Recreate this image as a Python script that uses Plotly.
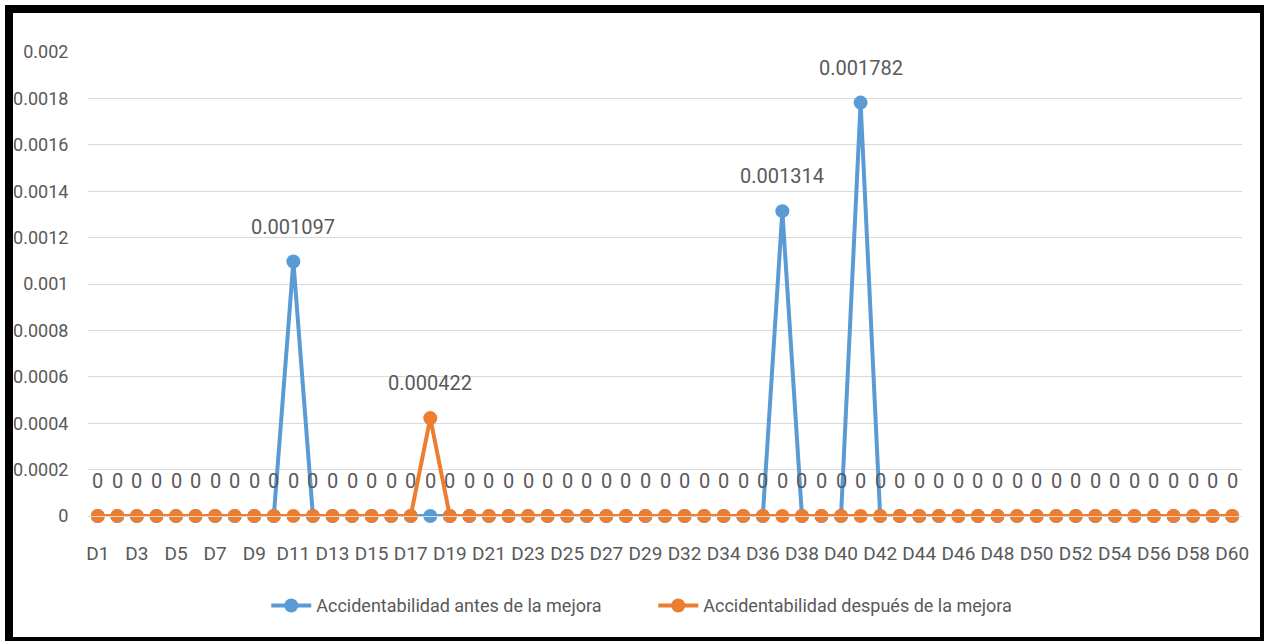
import plotly.graph_objects as go

categories = ["D1", "D2", "D3", "D4", "D5", "D6", "D7", "D8", "D9", "D10",
              "D11", "D12", "D13", "D14", "D15", "D16", "D17", "D18", "D19", "D20",
              "D21", "D22", "D23", "D24", "D25", "D26", "D27", "D28", "D29", "D30",
              "D32", "D33", "D34", "D35", "D36", "D37", "D38", "D39", "D40", "D41",
              "D42", "D43", "D44", "D45", "D46", "D47", "D48", "D49", "D50", "D51",
              "D52", "D53", "D54", "D55", "D56", "D57", "D58", "D59", "D60"]

antes = [0, 0, 0, 0, 0, 0, 0, 0, 0, 0,
         0.001097, 0, 0, 0, 0, 0, 0, 0, 0, 0,
         0, 0, 0, 0, 0, 0, 0, 0, 0, 0,
         0, 0, 0, 0, 0, 0.001314, 0, 0, 0, 0.001782,
         0, 0, 0, 0, 0, 0, 0, 0, 0, 0,
         0, 0, 0, 0, 0, 0, 0, 0, 0]

despues = [0, 0, 0, 0, 0, 0, 0, 0, 0, 0,
           0, 0, 0, 0, 0, 0, 0, 0.000422, 0, 0,
           0, 0, 0, 0, 0, 0, 0, 0, 0, 0,
           0, 0, 0, 0, 0, 0, 0, 0, 0, 0,
           0, 0, 0, 0, 0, 0, 0, 0, 0, 0,
           0, 0, 0, 0, 0, 0, 0, 0, 0]

series_names = ["Accidentabilidad antes de la mejora", "Accidentabilidad después de la mejora"]
y_ticks = [0, 0.0002, 0.0004, 0.0006, 0.0008, 0.001, 0.0012, 0.0014, 0.0016, 0.0018, 0.002]
y_tick_text = ["0", "0.0002", "0.0004", "0.0006", "0.0008", "0.001", "0.0012", "0.0014", "0.0016", "0.0018", "0.002"]

BLUE = "#5b9bd5"
ORANGE = "#ed7d31"
TXT = "#595959"
FONT = "Roboto, sans-serif"

W, H = 1266, 641
L, R, T, B = 88, 24, 52, 125

fig = go.Figure()
for vals, name, col in [(antes, series_names[0], BLUE), (despues, series_names[1], ORANGE)]:
    fig.add_trace(go.Scatter(
        x=categories, y=vals, name=name, mode="lines+markers",
        line=dict(color=col, width=4),
        marker=dict(color=col, size=14),
        cliponaxis=False,
    ))

def fmt(v):
    return "0" if v == 0 else f"{v:.6f}"

# Data labels: one label per distinct (category, value) position
annotations = []
seen = set()
for vals in (antes, despues):
    for c, v in zip(categories, vals):
        if (c, v) in seen:
            continue
        seen.add((c, v))
        annotations.append(dict(
            x=c, y=v, xref="x", yref="y", text=fmt(v), showarrow=False,
            yshift=35, yanchor="middle", xanchor="center",
            font=dict(family=FONT, size=20, color=TXT),
        ))

# Black frame around chart (pixel positions converted to paper coords)
pw, ph = W - L - R, H - T - B
def px(x):
    return (x - L) / pw
def py(y):
    return (H - B - y) / ph

shapes = []
for x0, y0, x1, y1 in [(5, 5, 1264, 13), (5, 5, 13, 641), (1260, 5, 1264, 641), (5, 637, 1264, 641)]:
    shapes.append(dict(type="rect", xref="paper", yref="paper",
                       x0=px(x0), x1=px(x1), y0=py(y1), y1=py(y0),
                       fillcolor="black", line=dict(width=0), layer="above"))

fig.update_layout(
    width=W, height=H,
    margin=dict(l=L, r=R, t=T, b=B),
    paper_bgcolor="white", plot_bgcolor="white",
    font=dict(family=FONT, size=18, color=TXT),
    showlegend=True,
    legend=dict(orientation="h", xref="container", yref="container",
                x=0.516, y=0.055, xanchor="center", yanchor="middle",
                font=dict(family=FONT, size=18, color=TXT),
                itemwidth=40, tracegroupgap=0, entrywidth=332),
    xaxis=dict(type="category", range=[-0.5, len(categories) - 0.5],
               tickmode="array", tickvals=categories[::2], ticktext=categories[::2],
               showgrid=False, showline=True, linecolor="#d9d9d9", linewidth=1,
               ticks="outside", ticklen=20, tickcolor="rgba(0,0,0,0)",
               tickfont=dict(family=FONT, size=19, color=TXT), zeroline=False),
    yaxis=dict(range=[0, 0.002], tickmode="array", tickvals=y_ticks, ticktext=y_tick_text,
               showgrid=True, gridcolor="#d9d9d9", gridwidth=1, zeroline=False,
               ticks="outside", ticklen=15, tickcolor="rgba(0,0,0,0)",
               tickfont=dict(family=FONT, size=18, color=TXT)),
    annotations=annotations,
    shapes=shapes,
)

fig.write_html("out.html", config={"displayModeBar": False},
               post_script="document.body.style.margin='0';document.body.style.overflow='hidden';")
